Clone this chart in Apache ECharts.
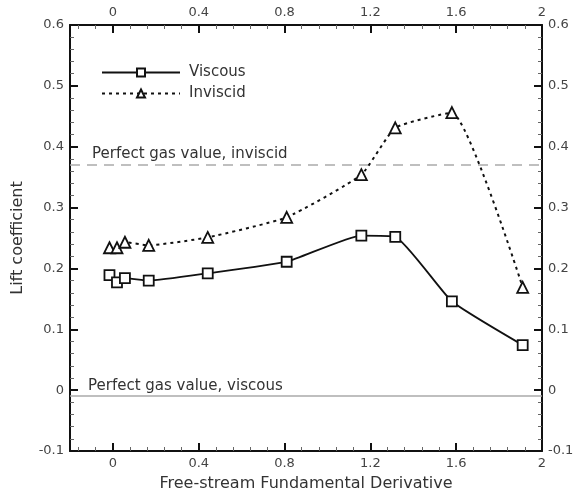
<!DOCTYPE html>
<html><head><meta charset="utf-8">
<script src="https://cdn.jsdelivr.net/npm/echarts@6/dist/echarts.min.js"></script>
<style>html,body{margin:0;padding:0;background:#fff}#c{width:580px;height:497px}</style>
</head><body><div id="c"></div>
<script>
const xValues = [-0.016, 0.019, 0.056, 0.167, 0.442, 0.81, 1.158, 1.316, 1.58, 1.91];
const viscous = [0.189, 0.177, 0.184, 0.180, 0.192, 0.211, 0.254, 0.252, 0.146, 0.074];
const inviscid = [0.234, 0.234, 0.243, 0.238, 0.251, 0.284, 0.354, 0.431, 0.456, 0.169];
const perfectInviscid = 0.372;
const perfectViscous = -0.012;
const seriesNames = ['Viscous', 'Inviscid'];
const xTitle = 'Free-stream Fundamental Derivative';
const yTitle = 'Lift coefficient';

const font = 'DejaVu Sans';
const labelColor = '#444';
function pairs(xs, ys){ return xs.map((x,i)=>[x, ys[i]]); }
function xFmt(v){ return Math.abs(v + 0.2) < 1e-6 ? '' : String(+v.toFixed(2)); }
function yFmt(v){ return String(+v.toFixed(2)); }

const baseX = {
  type:'value', min:-0.2, max:2, minInterval:0.4, maxInterval:0.4, splitNumber:5,
  axisLine:{show:true, onZero:false, lineStyle:{color:'#111', width:2}},
  axisTick:{show:true, inside:true, length:8, lineStyle:{color:'#111', width:2}},
  minorTick:{show:true, splitNumber:5, length:4, lineStyle:{color:'#666', width:1}},
  splitLine:{show:false},
  axisLabel:{formatter:xFmt, color:labelColor, fontFamily:font, fontSize:13, margin:6}
};
const baseY = {
  type:'value', min:-0.1, max:0.6, interval:0.1,
  axisLine:{show:true, onZero:false, lineStyle:{color:'#111', width:2}},
  axisTick:{show:true, inside:true, length:8, lineStyle:{color:'#111', width:2}},
  minorTick:{show:true, splitNumber:5, length:4, lineStyle:{color:'#666', width:1}},
  splitLine:{show:false},
  axisLabel:{formatter:yFmt, color:labelColor, fontFamily:font, fontSize:13, margin:6}
};

const chart = echarts.init(document.getElementById('c'), null, {renderer:'canvas'});
chart.setOption({
  animation:false,
  backgroundColor:'#fff',
  grid:{left:70, right:38, top:25, bottom:45, containLabel:false},
  legend:{
    data:seriesNames, orient:'vertical', left:96, top:60, itemWidth:78, itemHeight:10, itemGap:6,
    textStyle:{fontFamily:font, fontSize:15, color:'#333', padding:[0,0,0,4]}
  },
  xAxis:[
    Object.assign({}, baseX, {position:'bottom', name:xTitle, nameLocation:'middle', nameGap:25,
      nameTextStyle:{fontFamily:font, fontSize:16, color:'#333'}}),
    Object.assign({}, baseX, {position:'top'})
  ],
  yAxis:[
    Object.assign({}, baseY, {position:'left', name:yTitle, nameLocation:'middle', nameGap:44,
      nameTextStyle:{fontFamily:font, fontSize:16, color:'#333'}}),
    Object.assign({}, baseY, {position:'right'})
  ],
  series:[
    {
      name:seriesNames[0], type:'line', data:pairs(xValues, viscous), smooth:0.15,
      symbol:'rect', symbolSize:10, itemStyle:{color:'#fff', borderColor:'#111', borderWidth:1.8},
      lineStyle:{color:'#111', width:1.8}, z:5,
      markLine:{
        silent:true, symbol:'none',
        lineStyle:{color:'#aaa', width:1.5, type:'solid'},
        label:{show:true, position:'insideStartTop', formatter:'Perfect gas value, viscous',
          fontFamily:font, fontSize:15, color:'#333', distance:[18,3]},
        data:[{yAxis:perfectViscous}]
      }
    },
    {
      name:seriesNames[1], type:'line', data:pairs(xValues, inviscid), smooth:0.15,
      symbol:'triangle', symbolSize:11, itemStyle:{color:'#fff', borderColor:'#111', borderWidth:1.8},
      lineStyle:{color:'#111', width:2, type:[3,4]}, z:5,
      markLine:{
        silent:true, symbol:'none',
        lineStyle:{color:'#aaa', width:1.5, type:[10,7]},
        label:{show:true, position:'insideStartTop', formatter:'Perfect gas value, inviscid',
          fontFamily:font, fontSize:15, color:'#333', distance:[22,3]},
        data:[{yAxis:perfectInviscid}]
      }
    }
  ]
});
</script>
</body></html>
